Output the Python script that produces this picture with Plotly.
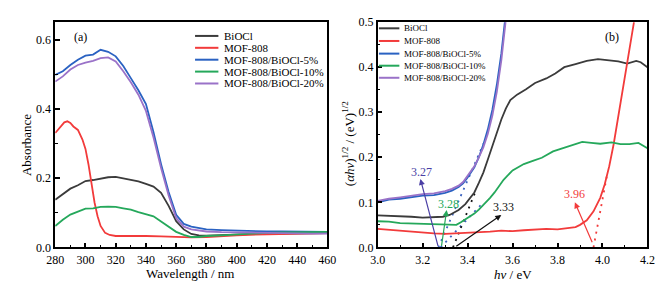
import plotly.graph_objects as go

# ---------------- data: panel (a) UV-vis absorbance ----------------
wavelength = [280, 285, 290, 295, 300, 305, 310, 315, 320, 325, 330, 335, 340, 345, 350,
              355, 360, 365, 370, 375, 380, 390, 400, 410, 420, 430, 440, 450, 460]
abs_biocl = [0.138, 0.155, 0.170, 0.180, 0.192, 0.195, 0.199, 0.203, 0.204, 0.200, 0.197, 0.191,
             0.184, 0.176, 0.158, 0.120, 0.076, 0.052, 0.039, 0.035, 0.034, 0.036, 0.038, 0.039,
             0.040, 0.040, 0.040, 0.040, 0.041]
abs_5 = [0.499, 0.510, 0.528, 0.543, 0.555, 0.558, 0.572, 0.566, 0.553, 0.525, 0.490, 0.455,
         0.415, 0.333, 0.241, 0.160, 0.094, 0.068, 0.060, 0.056, 0.052, 0.050, 0.048, 0.047,
         0.046, 0.046, 0.045, 0.045, 0.045]
abs_10 = [0.062, 0.080, 0.095, 0.104, 0.112, 0.113, 0.117, 0.118, 0.117, 0.113, 0.109, 0.102,
          0.096, 0.090, 0.075, 0.060, 0.045, 0.036, 0.030, 0.030, 0.033, 0.035, 0.038, 0.040,
          0.042, 0.043, 0.043, 0.044, 0.045]
abs_20 = [0.480, 0.495, 0.515, 0.528, 0.535, 0.540, 0.548, 0.550, 0.538, 0.510, 0.478, 0.442,
          0.395, 0.318, 0.230, 0.150, 0.085, 0.060, 0.052, 0.048, 0.046, 0.044, 0.043, 0.042,
          0.041, 0.041, 0.040, 0.040, 0.040]
wavelength_mof = [280, 283, 286, 288, 290, 292, 295, 298, 300, 302, 304, 306, 308, 310, 313,
                  316, 320, 330, 340, 350, 360, 370, 380, 390, 400, 420, 440, 460]
abs_mof = [0.331, 0.348, 0.362, 0.365, 0.360, 0.350, 0.340, 0.312, 0.285, 0.240, 0.180, 0.130,
           0.090, 0.062, 0.042, 0.036, 0.033, 0.034, 0.033, 0.032, 0.030, 0.029, 0.030, 0.033,
           0.035, 0.038, 0.040, 0.041]

# ---------------- data: panel (b) Tauc plot ----------------
e_biocl = [3.00, 3.05, 3.10, 3.15, 3.20, 3.25, 3.29, 3.32, 3.34, 3.36, 3.39, 3.41, 3.43, 3.45,
           3.47, 3.49, 3.51, 3.53, 3.55, 3.57, 3.59, 3.62, 3.66, 3.70, 3.75, 3.79, 3.83, 3.88,
           3.93, 3.98, 4.03, 4.07, 4.11, 4.15, 4.17, 4.20]
t_biocl = [0.071, 0.070, 0.070, 0.068, 0.066, 0.067, 0.068, 0.072, 0.078, 0.083, 0.096, 0.108,
           0.122, 0.143, 0.166, 0.195, 0.225, 0.256, 0.284, 0.308, 0.327, 0.339, 0.351, 0.365,
           0.375, 0.386, 0.400, 0.407, 0.414, 0.418, 0.415, 0.413, 0.408, 0.414, 0.411, 0.400]
e_mof = [3.00, 3.05, 3.10, 3.15, 3.20, 3.25, 3.30, 3.35, 3.40, 3.45, 3.50, 3.55, 3.60, 3.65,
         3.70, 3.75, 3.80, 3.85, 3.88, 3.90, 3.93, 3.96, 3.99, 4.01, 4.03, 4.05, 4.07, 4.09,
         4.11, 4.13, 4.14]
t_mof = [0.041, 0.039, 0.036, 0.034, 0.032, 0.031, 0.030, 0.031, 0.033, 0.034, 0.035, 0.037,
         0.036, 0.038, 0.040, 0.041, 0.040, 0.043, 0.045, 0.050, 0.060, 0.080, 0.110, 0.140,
         0.180, 0.230, 0.290, 0.350, 0.410, 0.470, 0.500]
e_5_20 = [3.00, 3.05, 3.10, 3.15, 3.20, 3.25, 3.30, 3.33, 3.36, 3.38, 3.40, 3.43, 3.45, 3.47,
          3.49, 3.51, 3.53, 3.55, 3.57]
t_5 = [0.100, 0.106, 0.108, 0.112, 0.115, 0.116, 0.121, 0.126, 0.134, 0.142, 0.155, 0.178,
       0.200, 0.228, 0.262, 0.305, 0.361, 0.430, 0.520]
t_20 = [0.103, 0.108, 0.111, 0.115, 0.118, 0.120, 0.125, 0.130, 0.137, 0.145, 0.158, 0.180,
        0.200, 0.222, 0.252, 0.292, 0.345, 0.415, 0.505]
e_10 = [3.00, 3.05, 3.10, 3.15, 3.20, 3.25, 3.30, 3.33, 3.35, 3.37, 3.40, 3.43, 3.45, 3.47,
        3.50, 3.52, 3.56, 3.60, 3.65, 3.69, 3.73, 3.78, 3.82, 3.86, 3.91, 3.95, 3.99, 4.04,
        4.08, 4.12, 4.16, 4.20]
t_10 = [0.058, 0.057, 0.054, 0.053, 0.052, 0.051, 0.050, 0.051, 0.050, 0.056, 0.065, 0.075,
        0.084, 0.094, 0.110, 0.122, 0.150, 0.171, 0.185, 0.192, 0.199, 0.213, 0.220, 0.227,
        0.234, 0.232, 0.230, 0.233, 0.229, 0.229, 0.232, 0.220]

# tangent (extrapolation) lines
tan_5_20_x = [3.27, 3.475]
tan_5_20_y = [0.0, 0.235]
tan_10_x = [3.28, 3.47]
tan_10_y = [0.0, 0.100]
tan_biocl_x = [3.335, 3.44]
tan_biocl_y = [0.0, 0.130]
tan_mof_x = [3.96, 4.02]
tan_mof_y = [0.0, 0.160]

# band gap labels
gap_labels = ["3.27", "3.28", "3.33", "3.96"]

names = ["BiOCl", "MOF-808", "MOF-808/BiOCl-5%", "MOF-808/BiOCl-10%", "MOF-808/BiOCl-20%"]
colors = ["#3b3b3b", "#f23b3b", "#2a62c2", "#25a85b", "#9a72c8"]

FONT = "Liberation Serif"
W, H = 665, 287


def px_x(p):
    return p / W


def px_y(p):
    return 1 - p / H


fig = go.Figure()

# panel (a)
panel_a = [(wavelength, abs_biocl), (wavelength_mof, abs_mof), (wavelength, abs_5),
           (wavelength, abs_10), (wavelength, abs_20)]
for (xs, ys), c in zip(panel_a, colors):
    fig.add_trace(go.Scatter(x=xs, y=ys, mode="lines", line=dict(color=c, width=1.8),
                             showlegend=False, xaxis="x", yaxis="y"))

# panel (b) tangents
for xs, ys, c in [(tan_5_20_x, tan_5_20_y, "#3c63c0"), (tan_10_x, tan_10_y, "#3c63c0"),
                  (tan_biocl_x, tan_biocl_y, "#111111"), (tan_mof_x, tan_mof_y, "#f23b3b")]:
    fig.add_trace(go.Scatter(x=xs, y=ys, mode="lines",
                             line=dict(color=c, width=1.8, dash="2px,5px"),
                             showlegend=False, xaxis="x2", yaxis="y2"))

panel_b = [(e_biocl, t_biocl), (e_mof, t_mof), (e_5_20, t_5), (e_10, t_10), (e_5_20, t_20)]
for (xs, ys), c in zip(panel_b, colors):
    fig.add_trace(go.Scatter(x=xs, y=ys, mode="lines", line=dict(color=c, width=1.8),
                             showlegend=False, xaxis="x2", yaxis="y2"))

ydom = [px_y(244.3), px_y(7.5)]
axis_common = dict(showline=True, linecolor="black", linewidth=1.5, mirror=True,
                   ticks="inside", ticklen=5, tickwidth=1.5, tickcolor="black",
                   showgrid=False, zeroline=False,
                   tickfont=dict(family=FONT, size=12, color="black"))

fig.update_layout(
    width=W, height=H,
    margin=dict(l=0, r=0, t=0, b=0),
    paper_bgcolor="white", plot_bgcolor="white",
    font=dict(family=FONT, color="black"),
    xaxis=dict(domain=[px_x(39.3), px_x(319)], range=[280, 460], dtick=20, anchor="y",
               minor=dict(ticks="inside", ticklen=3, dtick=10, tickcolor="black", tickwidth=1.2),
               **axis_common),
    yaxis=dict(domain=ydom, range=[0, 0.652], dtick=0.2, tickformat=".1f", anchor="x",
               minor=dict(ticks="inside", ticklen=3, dtick=0.1, tickcolor="black", tickwidth=1.2),
               **axis_common),
    xaxis2=dict(domain=[px_x(370.7), px_x(648)], range=[3.0, 4.2], dtick=0.2, tickformat=".1f",
                anchor="y2",
                minor=dict(ticks="inside", ticklen=3, dtick=0.1, tickcolor="black", tickwidth=1.2),
                **axis_common),
    yaxis2=dict(domain=ydom, range=[0, 0.5], dtick=0.1, tickformat=".1f", anchor="x2",
                minor=dict(ticks="inside", ticklen=3, dtick=0.05, tickcolor="black", tickwidth=1.2),
                **axis_common),
)

ann = []
shapes = []


def text_ann(text, x, y, size=11, angle=0, color="black", xanchor="center"):
    return dict(text=text, x=px_x(x), y=px_y(y), xref="paper", yref="paper",
                showarrow=False, textangle=angle, xanchor=xanchor, yanchor="middle",
                font=dict(family=FONT, size=size, color=color))


# axis titles
ann.append(text_ann("Absorbance", 10, 137, size=13, angle=-90))
ann.append(text_ann("Wavelength / nm", 178, 272, size=13))
ann.append(text_ann("(<i>αhν</i>)<sup>1/2</sup> / (eV)<sup>1/2</sup>", 341, 135, size=13, angle=-90))
ann.append(text_ann("<i>hν</i> / eV", 510, 273, size=13))

# panel labels
ann.append(text_ann("(a)", 65, 23, size=12))
ann.append(text_ann("(b)", 612, 23, size=12))

# manual legends
leg_a_y = [22, 34.5, 47, 59.5, 72]
leg_b_y = [14, 27.3, 40.6, 53.3, 66]
for nm, c, ya, yb in zip(names, colors, leg_a_y, leg_b_y):
    shapes.append(dict(type="line", xref="paper", yref="paper", x0=px_x(183), x1=px_x(207),
                       y0=px_y(ya), y1=px_y(ya), line=dict(color=c, width=2)))
    ann.append(text_ann(nm, 211, ya, size=11, xanchor="left"))
    shapes.append(dict(type="line", xref="paper", yref="paper", x0=px_x(372), x1=px_x(393),
                       y0=px_y(yb), y1=px_y(yb), line=dict(color=c, width=2)))
    ann.append(text_ann(nm, 396, yb, size=9, xanchor="left"))

# band-gap arrows and labels: (tail_x, tail_y, head_x, head_y, text_x, text_y, color)
arrows = [
    (3.270, 0.000, 3.190, 0.152, 3.195, 0.168, "#4b3fa5"),
    (3.283, 0.000, 3.307, 0.083, 3.313, 0.097, "#25a85b"),
    (3.343, 0.000, 3.550, 0.072, 3.560, 0.090, "#111111"),
    (3.957, 0.008, 3.877, 0.100, 3.877, 0.119, "#f23b3b"),
]
for lab, (tx, ty, hx, hy, lx, ly, c) in zip(gap_labels, arrows):
    ann.append(dict(text="", x=hx, y=hy, ax=tx, ay=ty, xref="x2", yref="y2",
                    axref="x2", ayref="y2", showarrow=True, arrowhead=2, arrowsize=1,
                    arrowwidth=1.2, arrowcolor=c, standoff=0, startstandoff=0))
    ann.append(dict(text=lab, x=lx, y=ly, xref="x2", yref="y2", showarrow=False,
                    xanchor="center", yanchor="middle",
                    font=dict(family=FONT, size=12, color=c)))

fig.update_layout(annotations=ann, shapes=shapes)
fig.write_html("out.html")
